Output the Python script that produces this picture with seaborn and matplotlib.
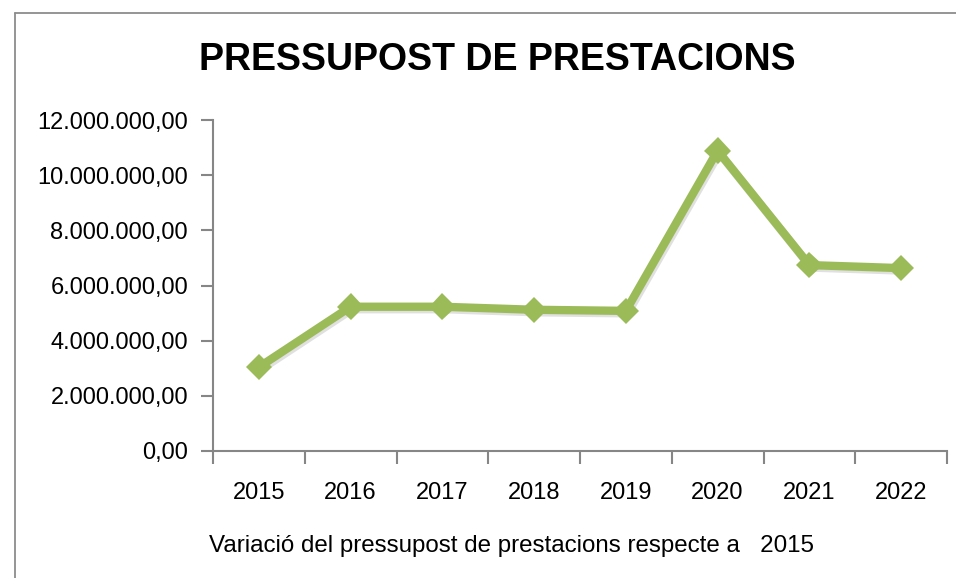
#!/usr/bin/env python3
"""Pressupost de prestacions 2015-2022 (line chart, estil Excel)."""

import matplotlib

matplotlib.use("Agg")
import matplotlib.pyplot as plt
import matplotlib.patheffects as pe
from matplotlib.lines import Line2D
from matplotlib.ticker import FuncFormatter
import numpy as np
import pandas as pd
import seaborn as sns


YEARS = ["2015", "2016", "2017", "2018", "2019", "2020", "2021", "2022"]
BUDGET = [3_040_000, 5_230_000, 5_230_000, 5_120_000, 5_080_000, 10_890_000, 6_740_000, 6_630_000]

TITLE = "PRESSUPOST DE PRESTACIONS"
XLABEL = "Variació del pressupost de prestacions respecte a   2015"

LINE_COLOR = "#9BBB59"
AXIS_COLOR = "#868686"


def euro_fmt(v, _pos):
    # 12000000 -> 12.000.000,00
    return f"{v:,.2f}".replace(",", "X").replace(".", ",").replace("X", ".")


sns.set_style("white")
plt.rcParams["font.family"] = ["Liberation Sans", "DejaVu Sans"]
plt.rcParams["text.color"] = "black"

df = pd.DataFrame({"any": YEARS, "pressupost": BUDGET})

fig = plt.figure(figsize=(9.56, 5.78), dpi=100)
ax = fig.add_axes([213 / 956, 127 / 578, 734 / 956, 331 / 578])

sns.lineplot(
    data=df, x="any", y="pressupost", ax=ax,
    color=LINE_COLOR, linewidth=6.0, marker="D", markersize=13.5,
    markeredgewidth=0, sort=False,
    path_effects=[pe.SimpleLineShadow(offset=(1.2, -1.8), alpha=0.12), pe.Normal()],
)

ax.set_ylim(0, 12_000_000)
ax.set_yticks(np.arange(0, 12_000_001, 2_000_000))
ax.yaxis.set_major_formatter(FuncFormatter(euro_fmt))
ax.set_xlim(-0.5, len(YEARS) - 0.5)
ax.set_xticks(range(len(YEARS)))
ax.set_xticklabels(YEARS)
ax.set_xticks(np.arange(-0.5, len(YEARS), 1.0), minor=True)

ax.tick_params(axis="x", which="major", length=0, labelsize=17, pad=22, colors="black")
ax.tick_params(axis="x", which="minor", length=9, width=1.5, color=AXIS_COLOR, direction="out")
ax.tick_params(axis="y", which="major", length=9, width=1.5, color=AXIS_COLOR,
               direction="out", labelsize=17, pad=9, labelcolor="black")
ax.tick_params(left=True, bottom=True, which="both")

for side in ("top", "right"):
    ax.spines[side].set_visible(False)
for side in ("left", "bottom"):
    ax.spines[side].set_color(AXIS_COLOR)
    ax.spines[side].set_linewidth(1.5)

ax.set_ylabel("")
ax.set_xlabel(XLABEL, fontsize=17.4, color="black")
ax.xaxis.label.set_va("center")
ax.xaxis.set_label_coords((511 - 213) / 734, (451 - 546) / 331)

fig.text(497 / 956, 1 - 60 / 578, TITLE, ha="center", va="center",
         fontsize=27, fontweight="bold", color="black")

# marc del gràfic (només es veuen els costats esquerre i superior)
fig.add_artist(Line2D([15 / 956, 15 / 956], [0, 1 - 13 / 578], color="#8c8c8c", lw=1.3,
                      transform=fig.transFigure))
fig.add_artist(Line2D([15 / 956, 1], [1 - 13 / 578, 1 - 13 / 578], color="#8c8c8c", lw=1.3,
                      transform=fig.transFigure))

fig.savefig("out.png", dpi=100)
plt.close(fig)
